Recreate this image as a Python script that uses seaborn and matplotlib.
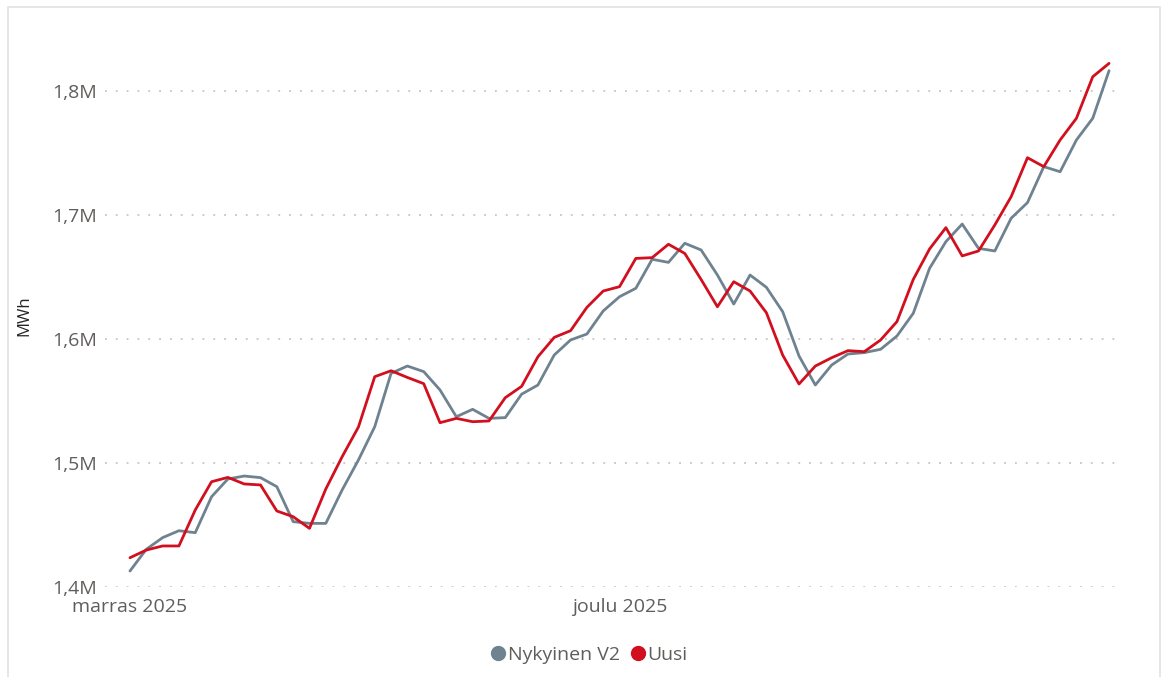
import matplotlib
matplotlib.use("Agg")
import matplotlib.pyplot as plt
import matplotlib.dates as mdates
from matplotlib.lines import Line2D
from matplotlib.patches import Rectangle
from matplotlib.ticker import FuncFormatter
import seaborn as sns
import pandas as pd
import numpy as np

# ---- data (values in millions of MWh) ----
dates = pd.date_range("2025-11-01", "2025-12-31", freq="D")
nykyinen_v2 = [1.4129, 1.4304, 1.4398, 1.4454, 1.4438, 1.4728, 1.4871, 1.4895, 1.4882, 1.4809,
               1.4527, 1.4513, 1.4513, 1.4782, 1.5024, 1.5293, 1.5723, 1.5782, 1.5737, 1.5589,
               1.5373, 1.5433, 1.5360, 1.5366, 1.5555, 1.5629, 1.5871, 1.5992, 1.6040, 1.6226,
               1.6341, 1.6409, 1.6643, 1.6618, 1.6772, 1.6718, 1.6516, 1.6282, 1.6516, 1.6417,
               1.6220, 1.5863, 1.5629, 1.5790, 1.5879, 1.5890, 1.5917, 1.6024, 1.6207, 1.6570,
               1.6785, 1.6927, 1.6731, 1.6710, 1.6974, 1.7100, 1.7390, 1.7349, 1.7605, 1.7780,
               1.8164]
uusi = [1.4236, 1.4298, 1.4331, 1.4331, 1.4621, 1.4849, 1.4884, 1.4831, 1.4823, 1.4613,
        1.4567, 1.4473, 1.4790, 1.5050, 1.5290, 1.5696, 1.5744, 1.5690, 1.5640, 1.5325,
        1.5360, 1.5333, 1.5339, 1.5527, 1.5618, 1.5857, 1.6013, 1.6067, 1.6255, 1.6387,
        1.6422, 1.6650, 1.6656, 1.6764, 1.6690, 1.6480, 1.6260, 1.6462, 1.6387, 1.6212,
        1.5870, 1.5637, 1.5782, 1.5849, 1.5906, 1.5898, 1.5992, 1.6140, 1.6480, 1.6726,
        1.6898, 1.6670, 1.6710, 1.6920, 1.7148, 1.7462, 1.7390, 1.7605, 1.7780, 1.8115,
        1.8223]
series_names = ["Nykyinen V2", "Uusi"]
colors = {"Nykyinen V2": "#6E828F", "Uusi": "#D20F1E"}
x_tick_dates = pd.to_datetime(["2025-11-01", "2025-12-01"])
x_tick_labels = ["marras 2025", "joulu 2025"]
y_ticks = [1.4e6, 1.5e6, 1.6e6, 1.7e6, 1.8e6]

df = pd.DataFrame({
    "Date": np.concatenate([dates, dates]),
    "MWh": np.concatenate([np.array(nykyinen_v2), np.array(uusi)]) * 1e6,
    "Series": [series_names[0]] * len(dates) + [series_names[1]] * len(dates),
})

sns.set_theme(style="white")
plt.rcParams["font.family"] = ["Open Sans", "DejaVu Sans"]

W, H = 1171, 677
fig = plt.figure(figsize=(W / 100, H / 100), dpi=100)
ax = fig.add_axes([105 / W, (H - 587) / H, (1120 - 105) / W, (587 - 45) / H])

sns.lineplot(data=df, x="Date", y="MWh", hue="Series", palette=colors,
             hue_order=series_names, linewidth=2.0, ax=ax, legend=False)

ax.set_ylim(1.4e6, 1.8371e6)
ax.set_xlim(mdates.date2num(pd.Timestamp("2025-11-01")) - 1.53,
            mdates.date2num(pd.Timestamp("2025-12-31")) + 0.67)

ax.set_yticks(y_ticks)
ax.yaxis.set_major_formatter(FuncFormatter(lambda v, p: f"{v/1e6:.1f}M".replace(".", ",")))
ax.set_xticks(x_tick_dates)
ax.set_xticklabels(x_tick_labels)

tick_color = "#605E5C"
ax.tick_params(axis="y", length=0, pad=6, labelsize=14, labelcolor=tick_color)
ax.tick_params(axis="x", length=0, pad=8, labelsize=14, labelcolor=tick_color)

ax.grid(axis="y", color="#C8C6C4", linestyle=(0, (1, 5)), linewidth=1.3)
ax.grid(axis="x", visible=False)
for s in ax.spines.values():
    s.set_visible(False)

ax.set_xlabel("")
ax.set_ylabel("MWh", fontsize=12, color="#252423", labelpad=14)

handles = [Line2D([0], [0], marker="o", linestyle="none", markersize=10,
                  markerfacecolor=colors[n], markeredgecolor=colors[n]) for n in series_names]
fig.legend(handles, series_names, loc="center", bbox_to_anchor=(588 / W, (H - 655) / H),
           ncol=2, frameon=False, fontsize=14, handletextpad=0.0, columnspacing=0.4,
           labelcolor=tick_color, handlelength=1.0)

fig.patches.append(Rectangle((8 / W, -0.01), (1160 - 8) / W, (H - 7) / H + 0.01,
                             transform=fig.transFigure, fill=False,
                             edgecolor="#E1E1E1", linewidth=1.2))

fig.savefig("out.png", dpi=100)
